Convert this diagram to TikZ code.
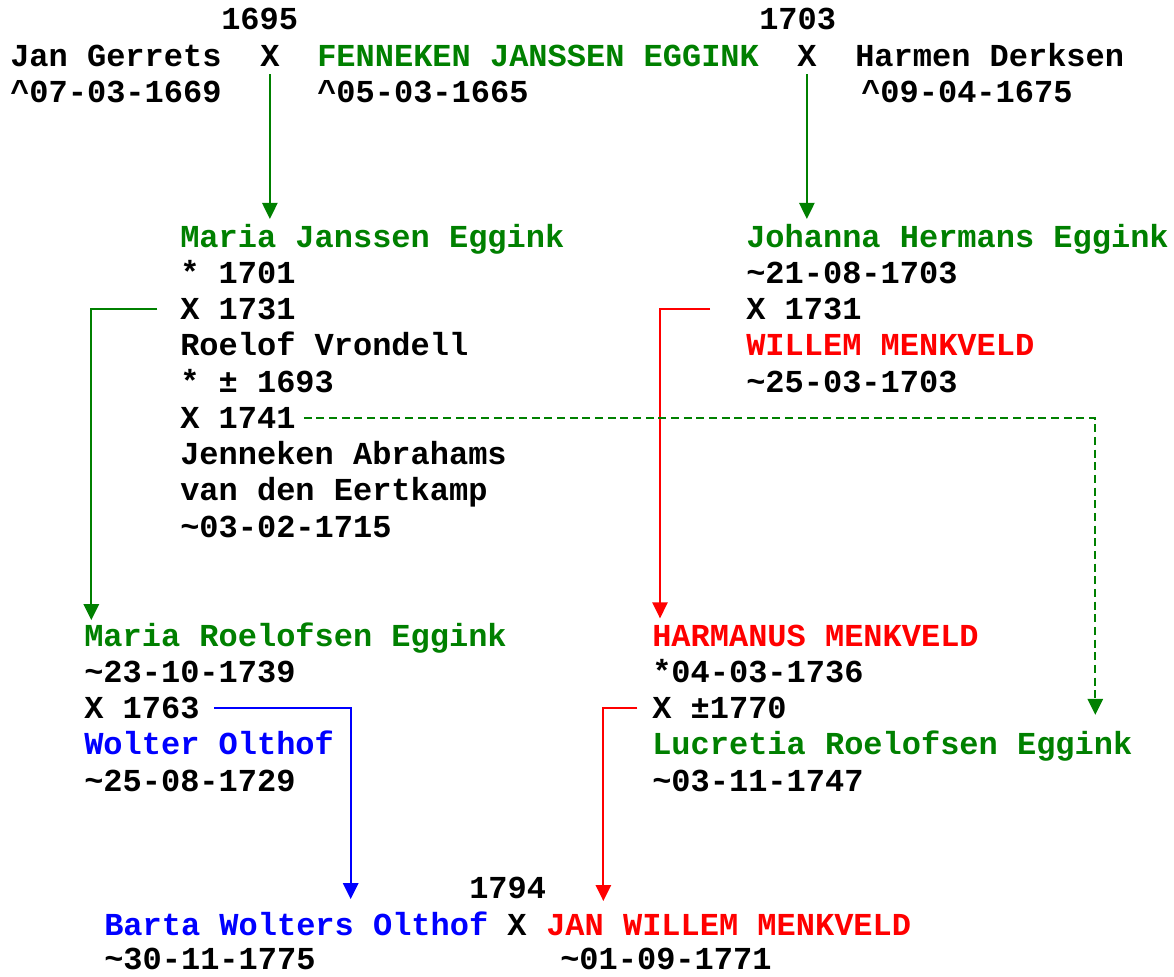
\documentclass[tikz,border=0pt]{standalone}
\usepackage{fontspec}
\setmainfont{Liberation Mono}
\usetikzlibrary{arrows.meta,calc}

\definecolor{famgreen}{RGB}{0,128,0}
\definecolor{famred}{RGB}{255,0,0}
\definecolor{famblue}{RGB}{0,0,255}

\tikzset{
  entry/.style={anchor=base west, inner sep=0pt, font=\fontsize{24}{28}\selectfont\bfseries},
  link/.style={line width=1.4pt, -{Triangle[length=12pt,width=11.5pt]}},
}

\begin{document}
\begin{tikzpicture}[x=0.75pt,y=-0.75pt]
  \useasboundingbox (0,0) rectangle (1174,976);
  % \draw[step=100,thin,gray!40] (0,0) grid (1174,976);

  % first generation
  \node[entry] (yearANode) at (221,29) {1695};
  \node[entry] (yearBNode) at (759,29) {1703};
  \node[entry] (janNode) at (10,66) {Jan Gerrets};
  \node[entry] (xANode) at (260,66) {X};
  \node[entry, famgreen] (fennekenNode) at (317,66) {FENNEKEN JANSSEN EGGINK};
  \node[entry] (xBNode) at (797,66) {X};
  \node[entry] (harmenNode) at (855,66) {Harmen Derksen};
  \node[entry] (janBirthNode) at (10,102) {\textasciicircum07-03-1669};
  \node[entry] (fennekenBirthNode) at (317,102) {\textasciicircum05-03-1665};
  \node[entry] (harmenBirthNode) at (861,102) {\textasciicircum09-04-1675};

  % second generation
  \node[entry, famgreen] (mariaJNode) at (180,247) {Maria Janssen Eggink};
  \node[entry] (mariaJBirthNode) at (180,283.25) {* 1701};
  \node[entry] (mariaJMarrNode) at (180,319.5) {X 1731};
  \node[entry] (roelofNode) at (180,355.75) {Roelof Vrondell};
  \node[entry] (roelofBirthNode) at (180,392) {* ± 1693};
  \node[entry] (roelofMarrNode) at (180,428.25) {X 1741};
  \node[entry] (jennekenNode) at (180,464.5) {Jenneken Abrahams};
  \node[entry] (jennekenSurNode) at (180,500.75) {van den Eertkamp};
  \node[entry] (jennekenBirthNode) at (180,537) {\textasciitilde03-02-1715};

  \node[entry, famgreen] (johannaNode) at (746,247) {Johanna Hermans Eggink};
  \node[entry] (johannaBirthNode) at (746,283.25) {\textasciitilde21-08-1703};
  \node[entry] (johannaMarrNode) at (746,319.5) {X 1731};
  \node[entry, famred] (willemNode) at (746,355.75) {WILLEM MENKVELD};
  \node[entry] (willemBirthNode) at (746,392) {\textasciitilde25-03-1703};

  % third generation
  \node[entry, famgreen] (mariaRNode) at (84,646) {Maria Roelofsen Eggink};
  \node[entry] (mariaRBirthNode) at (84,682.25) {\textasciitilde23-10-1739};
  \node[entry] (mariaRMarrNode) at (84,718.5) {X 1763};
  \node[entry, famblue] (wolterNode) at (84,754.75) {Wolter Olthof};
  \node[entry] (wolterBirthNode) at (84,791) {\textasciitilde25-08-1729};

  \node[entry, famred] (harmanusNode) at (652,646) {HARMANUS MENKVELD};
  \node[entry] (harmanusBirthNode) at (652,682.25) {*04-03-1736};
  \node[entry] (harmanusMarrNode) at (652,718.5) {X ±1770};
  \node[entry, famgreen] (lucretiaNode) at (652,754.75) {Lucretia Roelofsen Eggink};
  \node[entry] (lucretiaBirthNode) at (652,791) {\textasciitilde03-11-1747};

  % fourth generation
  \node[entry] (yearCNode) at (469,898) {1794};
  \node[entry, famblue] (bartaNode) at (104,935) {Barta Wolters Olthof};
  \node[entry] (xCNode) at (507,935) {X};
  \node[entry, famred] (janWNode) at (546,935) {JAN WILLEM MENKVELD};
  \node[entry] (bartaBirthNode) at (104,969) {\textasciitilde30-11-1775};
  \node[entry] (janWBirthNode) at (560,969) {\textasciitilde01-09-1771};

  % descent lines
  \draw[link, famgreen, shorten <=6pt, shorten >=3.5pt] (xANode.south) -- (xANode.south |- mariaJNode.north);
  \draw[link, famgreen, shorten <=6pt, shorten >=3.5pt] (xBNode.south) -- (xBNode.south |- johannaNode.north);
  \draw[link, famgreen, shorten >=1.5pt] ([xshift=-17pt]mariaJMarrNode.west) -| ([xshift=5.5pt]mariaRNode.north west);
  \draw[link, famred, shorten >=4.5pt] ([xshift=-27pt]johannaMarrNode.west) -| ([xshift=6pt]harmanusNode.north west);
  \draw[link, famgreen, dash pattern=on 6pt off 3.5pt, shorten >=12pt] ([xshift=6pt]roelofMarrNode.east) -| ([xshift=-28pt]lucretiaNode.north east);
  \draw[link, famblue, shorten >=9pt] ([xshift=11pt]mariaRMarrNode.east) -| ([xshift=185pt]bartaNode.north west);
  \draw[link, famred, shorten >=9.5pt] ([xshift=-11pt]harmanusMarrNode.west) -| ([xshift=43pt]janWNode.north west);
\end{tikzpicture}
\end{document}
